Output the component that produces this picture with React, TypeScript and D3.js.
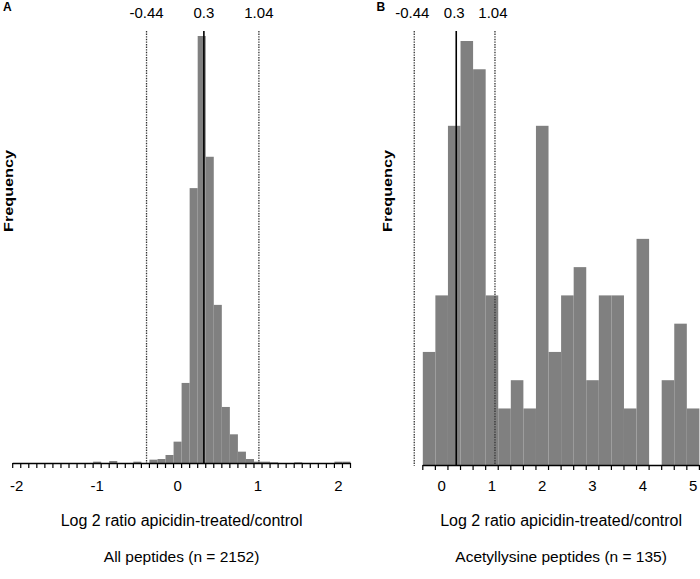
import React from "react";
import * as d3 from "d3";

// ---------- Panel A data (bin centers, width 0.1) ----------
const binCentersA = [-1.0, -0.8, -0.5, -0.3, -0.2, -0.1, 0.0, 0.1, 0.2, 0.3, 0.4, 0.5, 0.6, 0.7, 0.8, 0.9, 1.0, 1.1, 1.2, 1.5, 2.0, 2.1];
const countsA = [2, 3, 2, 5, 6, 12, 32, 120, 412, 640, 459, 237, 84, 43, 17, 6, 2, 2, 1, 1, 2, 2];
const tickLabelsA = [-2, -1, 0, 1, 2];
const refLinePosA = [-0.386, 0.327, 1.011];
const refLabels = ["-0.44", "0.3", "1.04"];

// ---------- Panel B data (bin centers, width 0.25) ----------
const binCentersB = [-0.25, 0, 0.25, 0.5, 0.75, 1.0, 1.25, 1.5, 1.75, 2.0, 2.25, 2.5, 2.75, 3.0, 3.25, 3.5, 3.75, 4.0, 4.25, 4.5, 4.75, 5.0];
const countsB = [4, 6, 12, 15, 14, 6, 2, 3, 2, 12, 4, 6, 7, 3, 6, 6, 2, 8, 0, 3, 5, 2];
const tickLabelsB = [0, 1, 2, 3, 4, 5];
const refLinePosB = [-0.545, 0.29, 1.06];

const xLabel = "Log 2 ratio apicidin-treated/control";
const subtitleA = "All peptides (n = 2152)";
const subtitleB = "Acetyllysine peptides (n = 135)";

const FONT = "'Liberation Sans', Arial, Helvetica, sans-serif";
const BAR = "#808080";

type PanelProps = {
  letter: string;
  letterX: number;
  centers: number[];
  counts: number[];
  binW: number;
  domain: [number, number];
  range: [number, number];
  yDomainMax: number;
  yRange: [number, number];
  tickLabels: number[];
  refPos: number[];
  refTop: number;
  freqX: number;
  subtitle: string;
};

function Panel(p: PanelProps) {
  const x = d3.scaleLinear().domain(p.domain).range(p.range);
  const y = d3.scaleLinear().domain([0, p.yDomainMax]).range(p.yRange);
  const base = y(0);
  const nTicks = Math.round((p.domain[1] - p.domain[0]) / p.binW);
  const ticks = d3.range(nTicks + 1).map((i) => p.domain[0] + i * p.binW);
  const cx = (p.range[0] + p.range[1]) / 2;
  const freqY = 191;
  return (
    <g>
      <text x={p.letterX} y={11} fontFamily={FONT} fontWeight="bold" fontSize={12}>
        {p.letter}
      </text>
      {p.centers.map((c, i) =>
        p.counts[i] > 0 ? (
          <rect
            key={i}
            x={x(c - p.binW / 2)}
            y={y(p.counts[i])}
            width={x(c + p.binW / 2) - x(c - p.binW / 2)}
            height={base - y(p.counts[i])}
            fill={BAR}
          />
        ) : null
      )}
      {p.refPos.map((v, i) => (
        <line
          key={"r" + i}
          x1={x(v)}
          x2={x(v)}
          y1={p.refTop}
          y2={base + (i === 1 ? 0 : 1)}
          stroke={i === 1 ? "#000" : "#333"}
          strokeWidth={i === 1 ? 1.6 : 1.3}
          strokeDasharray={i === 1 ? undefined : "1.4 1.2"}
        />
      ))}
      {p.refPos.map((v, i) => (
        <text
          key={"rl" + i}
          x={x(v) - (p.letter === "B" ? 2 : 0)}
          y={17.5}
          textAnchor="middle"
          fontFamily={FONT}
          fontSize={15}
        >
          {refLabels[i]}
        </text>
      ))}
      <line x1={p.range[0]} x2={p.range[1]} y1={base + 0.5} y2={base + 0.5} stroke="#000" strokeWidth={1.6} />
      {ticks.map((t, i) => (
        <line key={"t" + i} x1={x(t)} x2={x(t)} y1={base} y2={base + 5} stroke="#000" strokeWidth={1.2} />
      ))}
      {p.tickLabels.map((t, i) => (
        <text key={"tl" + i} x={x(t)} y={491} textAnchor="middle" fontFamily={FONT} fontSize={15}>
          {t}
        </text>
      ))}
      <text
        transform={`translate(${p.freqX},${freqY}) rotate(-90)`}
        textAnchor="middle"
        fontFamily={FONT}
        fontWeight="bold"
        fontSize={13}
        textLength={82}
        lengthAdjust="spacingAndGlyphs"
      >
        Frequency
      </text>
      <text x={cx} y={526} textAnchor="middle" fontFamily={FONT} fontSize={16}>
        {xLabel}
      </text>
      <text x={cx} y={562} textAnchor="middle" fontFamily={FONT} fontSize={15.5}>
        {p.subtitle}
      </text>
    </g>
  );
}

export default function App() {
  return (
    <svg
      width={700}
      height={579}
      viewBox="0 0 700 579"
      style={{ position: "absolute", left: 0, top: 0, background: "#fff" }}
    >
      <rect width={700} height={579} fill="#fff" />
      <Panel
        letter="A"
        letterX={3}
        centers={binCentersA}
        counts={countsA}
        binW={0.1}
        domain={[-2.05, 2.15]}
        range={[12.7, 350.5]}
        yDomainMax={640}
        yRange={[463, 36]}
        tickLabels={tickLabelsA}
        refPos={refLinePosA}
        refTop={31}
        freqX={12.6}
        subtitle={subtitleA}
      />
      <Panel
        letter="B"
        letterX={376.5}
        centers={binCentersB}
        counts={countsB}
        binW={0.25}
        domain={[-0.375, 5.125]}
        range={[422.8, 699.4]}
        yDomainMax={15}
        yRange={[465, 41]}
        tickLabels={tickLabelsB}
        refPos={refLinePosB}
        refTop={31}
        freqX={392.3}
        subtitle={subtitleB}
      />
    </svg>
  );
}
